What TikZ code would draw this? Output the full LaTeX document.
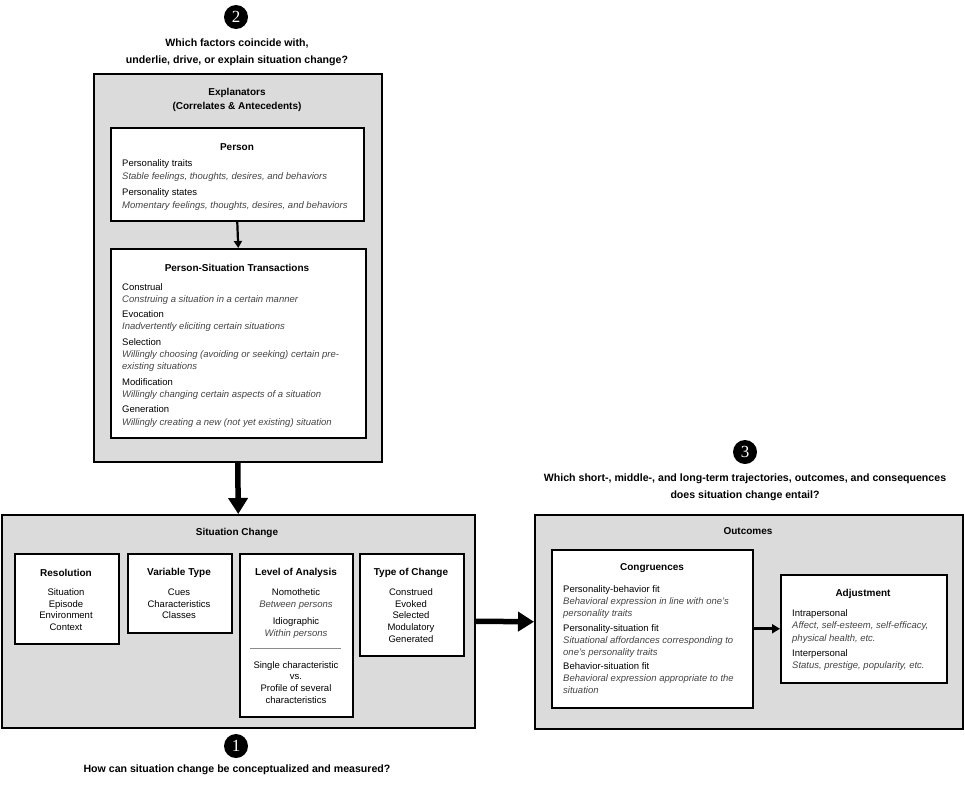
\documentclass[tikz,border=0pt]{standalone}
\usepackage{fontspec}
\setmainfont{Liberation Sans}
\newfontfamily\numfont{Liberation Serif}
\usetikzlibrary{arrows.meta}
\definecolor{boxgray}{HTML}{DBDBDB}
\definecolor{descgray}{HTML}{444444}
\definecolor{rulegray}{HTML}{8A8A8A}
\newcommand\dsc[1]{{\itshape\color{descgray}#1}}
\begin{document}
\begin{tikzpicture}[x=1pt,y=-1pt,
 outerbox/.style={draw, line width=1.5pt, fill=boxgray, anchor=north west, inner sep=0},
 innerbox/.style={draw, line width=1.5pt, fill=white, anchor=north west, inner sep=0},
 ttl/.style={font=\bfseries\fontsize{10}{14}\selectfont, align=center, inner sep=0},
 qtxt/.style={font=\bfseries\fontsize{10.6}{17}\selectfont, align=center, inner sep=0},
 bodyl/.style={font=\fontsize{9.5}{12.3}\selectfont, align=left, anchor=north west, inner sep=0},
 bodyc/.style={font=\fontsize{9.5}{11.7}\selectfont, align=center, anchor=north, inner sep=0},
 numc/.style={circle, fill=black, minimum size=24pt, inner sep=0, text=white, font=\numfont\fontsize{17}{17}\selectfont},
 bigarrow/.style={line width=5.5pt, -{Triangle[length=16pt,width=19pt]}},
 midarrow/.style={line width=2.8pt, -{Triangle[length=8pt,width=9pt]}},
 smallarrow/.style={line width=2.2pt, -{Triangle[length=7pt,width=8pt]}},
]
\useasboundingbox (0,0) rectangle (965,795);

% ---------- question 2 ----------
\node[numc] (n2) at (236,17) {2};
\node[qtxt] (q2) at (237,52.5) {Which factors coincide with,\\underlie, drive, or explain situation change?};

% ---------- explanators ----------
\node[outerbox, minimum width=288pt, minimum height=388pt] (expl) at (93,73) {};
\node[ttl] (explt) at (237,100) {Explanators\\(Correlates \& Antecedents)};

\node[innerbox, minimum width=253pt, minimum height=93pt] (person) at (110,127) {};
\node[ttl] (persont) at (237,147) {Person};
\node[bodyl, font=\fontsize{9.5}{13}\selectfont] (persontx) at (122,159.5) {Personality traits\\
\dsc{Stable feelings, thoughts, desires, and behaviors}\\[3pt]
Personality states\\
\dsc{Momentary feelings, thoughts, desires, and behaviors}};

\node[innerbox, minimum width=255pt, minimum height=189pt] (pst) at (110,248) {};
\node[ttl] (pstt) at (237,268) {Person-Situation Transactions};
\node[bodyl] (psttx) at (122,283) {Construal\\
\dsc{Construing a situation in a certain manner}\\[3pt]
Evocation\\
\dsc{Inadvertently eliciting certain situations}\\[3pt]
Selection\\
\dsc{Willingly choosing (avoiding or seeking) certain pre-}\\
\dsc{existing situations}\\[3pt]
Modification\\
\dsc{Willingly changing certain aspects of a situation}\\[3pt]
Generation\\
\dsc{Willingly creating a new (not yet existing) situation}};

% ---------- situation change ----------
\node[outerbox, minimum width=473pt, minimum height=213pt] (sit) at (1,514) {};
\node[ttl] (sitt) at (237,533) {Situation Change};

\node[innerbox, minimum width=104pt, minimum height=90pt] (res) at (14,553) {};
\node[ttl] (rest) at (66,573) {Resolution};
\node[bodyc] (restx) at (66,588.5) {Situation\\Episode\\Environment\\Context};

\node[innerbox, minimum width=104pt, minimum height=79pt] (var) at (127,553) {};
\node[ttl] (vart) at (179,573) {Variable Type};
\node[bodyc] (vartx) at (179,588.5) {Cues\\Characteristics\\Classes};

\node[innerbox, minimum width=113pt, minimum height=163pt] (loa) at (239,553) {};
\node[ttl] (loat) at (296,573) {Level of Analysis};
\node[bodyc] (loatx) at (296,588.5) {Nomothetic\\\dsc{Between persons}\\[5.5pt]Idiographic\\\dsc{Within persons}};
\draw[rulegray, line width=1pt] (250,648) -- (341,648);
\node[bodyc] (loatx2) at (296,661) {Single characteristic\\vs.\\Profile of several\\characteristics};

\node[innerbox, minimum width=104pt, minimum height=102pt] (toc) at (359,553) {};
\node[ttl] (toct) at (411,573) {Type of Change};
\node[bodyc] (toctx) at (411,588.5) {Construed\\Evoked\\Selected\\Modulatory\\Generated};

% ---------- question 1 ----------
\node[numc] (n1) at (236,746) {1};
\node[qtxt] (q1) at (237,770) {How can situation change be conceptualized and measured?};

% ---------- question 3 ----------
\node[numc] (n3) at (745,452) {3};
\node[qtxt] (q3) at (745,487) {Which short-, middle-, and long-term trajectories, outcomes, and consequences\\does situation change entail?};

% ---------- outcomes ----------
\node[outerbox, minimum width=428pt, minimum height=214pt] (out) at (534,514) {};
\node[ttl] (outt) at (748,531) {Outcomes};

\node[innerbox, minimum width=201pt, minimum height=158pt] (cong) at (551,549) {};
\node[ttl] (congt) at (652,568) {Congruences};
\node[bodyl, font=\fontsize{9.5}{12}\selectfont] (congtx) at (563,585.5) {Personality-behavior fit\\
\dsc{Behavioral expression in line with one's}\\
\dsc{personality traits}\\[2.7pt]
Personality-situation fit\\
\dsc{Situational affordances corresponding to}\\
\dsc{one's personality traits}\\[2.7pt]
Behavior-situation fit\\
\dsc{Behavioral expression appropriate to the}\\
\dsc{situation}};

\node[innerbox, minimum width=166pt, minimum height=108pt] (adj) at (780,574) {};
\node[ttl] (adjt) at (863,594) {Adjustment};
\node[bodyl, font=\fontsize{9.5}{12.5}\selectfont] (adjtx) at (792,609) {Intrapersonal\\
\dsc{Affect, self-esteem, self-efficacy,}\\
\dsc{physical health, etc.}\\[2.7pt]
Interpersonal\\
\dsc{Status, prestige, popularity, etc.}};

% ---------- connectors ----------
\draw[smallarrow] (person.south) -- (pst.north);
\draw[bigarrow] (expl.south) -- (sit.north);
\draw[bigarrow] (sit.east) -- (out.west);
\draw[midarrow] (cong.east) -- (adj.west);
\end{tikzpicture}
\end{document}
